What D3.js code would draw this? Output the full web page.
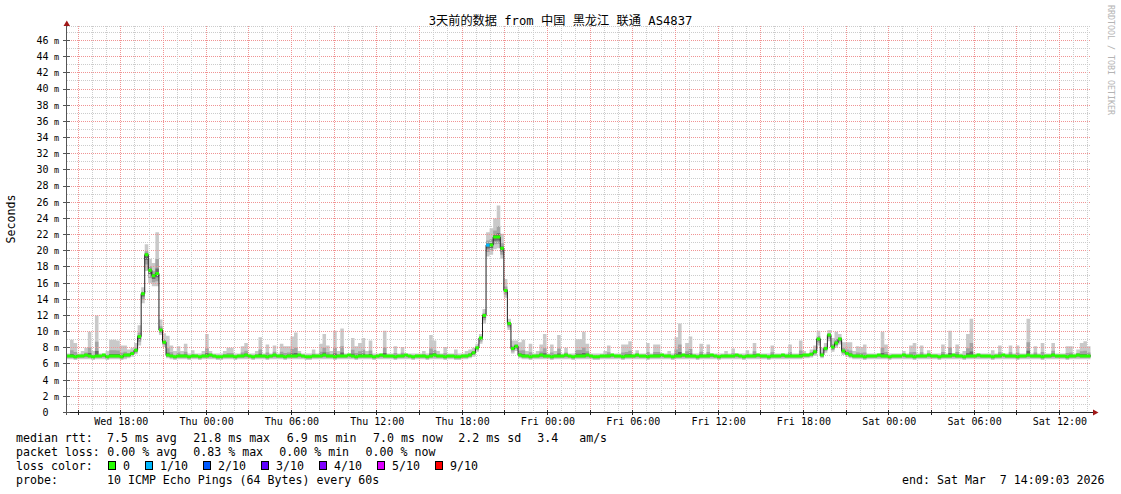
<!DOCTYPE html>
<html><head><meta charset="utf-8">
<script src="https://cdn.jsdelivr.net/npm/d3@7"></script>
<style>
body{margin:0;background:#fff;}
svg{display:block;}
text{font-family:"DejaVu Sans Mono","Noto Sans CJK SC",monospace;fill:#000;}
</style>
</head><body>
<svg id="c" width="1121" height="494"></svg>
<script>
// ---------------- DATA ----------------
const title = "3天前的数据 from 中国 黑龙江 联通 AS4837";
const yAxisLabel = "Seconds";
const watermark = "RRDTOOL / TOBI OETIKER";
const startTime = "2026-03-04T14:09:03Z";
const endTime = "2026-03-07T14:09:03Z";
const yMax = 47.8;
const yTickValues = [0,2,4,6,8,10,12,14,16,18,20,22,24,26,28,30,32,34,36,38,40,42,44,46];

// median RTT (ms), one value per 15-minute step
const median = [
 7.0,7.0,6.9,7.0,7.0,7.1,7.0,6.9,7.0,7.0,7.1,6.9,
 7.0,7.0,7.0,6.9,7.1,7.1,7.3,7.7,9.4,14.7,19.5,17.6,
 16.9,17.2,10.2,8.7,7.1,7.0,6.9,7.0,7.0,7.0,6.9,7.0,
 7.0,6.9,7.0,7.0,7.1,7.0,6.9,6.9,7.0,7.0,7.0,6.9,
 7.0,7.0,7.1,7.0,6.9,7.0,7.0,7.0,6.9,7.0,7.1,7.0,
 7.0,6.9,7.0,7.0,7.0,7.1,7.0,6.9,6.9,7.0,7.0,7.0,
 7.1,7.0,7.0,6.9,7.0,7.0,7.0,7.1,7.0,6.9,7.0,7.0,
 7.0,7.0,6.9,7.0,7.1,7.0,7.0,7.0,6.9,7.0,7.0,7.1,
 7.0,6.9,7.0,7.0,7.0,6.9,7.0,7.1,7.0,7.0,6.9,7.0,
 7.0,6.9,6.9,7.0,7.0,7.1,7.4,8.0,9.2,12.0,20.7,20.7,
 21.7,21.7,20.3,15.1,11.0,7.9,8.2,7.1,7.0,7.0,6.9,7.0,
 7.0,7.1,7.0,7.0,6.9,7.0,7.0,7.0,7.1,7.0,6.9,7.0,
 7.0,7.0,7.1,7.0,6.9,6.9,7.0,7.0,7.0,7.1,7.0,7.0,
 6.9,7.0,7.0,7.0,7.1,7.0,7.0,6.9,7.0,7.0,7.0,7.1,
 7.0,7.0,6.9,7.0,7.0,7.1,7.0,7.0,7.0,6.9,7.0,7.0,
 7.0,7.1,7.0,6.9,7.0,7.0,7.0,7.0,7.1,7.0,6.9,7.0,
 7.0,7.0,7.1,7.0,7.0,6.9,7.0,7.0,7.0,7.1,7.0,7.0,
 7.0,7.0,7.0,7.1,7.1,7.2,7.5,9.1,7.1,7.9,9.6,8.1,
 8.6,9.1,7.6,7.3,7.1,7.0,7.0,7.0,6.9,7.0,7.0,7.0,
 7.1,7.0,7.0,6.9,7.0,7.0,7.0,7.1,7.0,7.0,6.9,7.0,
 7.0,7.0,7.1,7.0,7.0,6.9,7.0,7.0,7.0,7.1,7.0,7.0,
 6.9,7.0,7.0,7.0,7.1,7.0,7.0,7.0,6.9,7.0,7.0,7.1,
 7.0,7.0,7.0,6.9,7.0,7.0,7.1,7.0,7.0,7.0,6.9,7.0,
 7.0,7.1,7.0,7.0,7.0,6.9,7.0,7.0,7.1,7.0,7.0,7.0
];
// slowest ping of each step (top of smoke)
const pingMax = [
 7.3,9.0,8.6,7.3,7.6,8.0,10.0,7.6,12.0,7.3,7.3,7.6,
 9.0,9.0,8.9,8.3,8.3,7.8,8.0,8.6,10.8,15.5,20.8,19.0,
 18.5,22.3,11.5,9.8,9.5,8.3,7.6,8.2,7.6,8.5,7.3,7.7,
 7.3,7.3,7.6,9.7,7.6,7.3,7.3,7.3,7.6,8.0,8.0,7.3,
 7.3,8.2,8.6,7.3,7.3,7.6,9.3,7.3,8.4,7.3,8.3,7.3,
 8.5,8.2,8.2,9.4,9.9,7.6,7.3,7.3,7.3,7.8,7.3,8.5,
 9.7,8.3,7.6,10.1,7.6,10.4,7.3,7.3,9.2,8.2,8.6,9.2,
 7.6,8.9,7.3,7.3,7.3,10.1,7.3,7.3,8.2,7.3,8.1,7.3,
 7.3,7.3,7.3,7.3,7.6,7.3,9.6,8.9,7.6,7.3,8.1,7.3,
 7.3,7.8,7.3,7.3,7.6,7.8,8.0,8.5,9.7,12.8,22.3,22.8,
 24.0,25.6,22.1,16.5,11.6,8.9,8.9,8.7,9.0,7.6,8.5,7.3,
 7.6,8.4,9.7,7.3,8.4,7.6,9.6,7.3,8.0,7.3,7.3,9.1,
 9.1,10.0,8.5,7.3,7.3,7.3,7.3,7.6,8.3,7.3,7.3,7.3,
 8.4,8.4,8.8,7.3,7.7,7.3,7.3,8.6,7.3,8.4,8.4,7.3,
 7.3,7.6,7.3,9.3,11.0,7.3,8.6,9.4,7.3,7.3,8.5,7.3,
 8.4,7.3,7.3,7.3,7.3,7.6,7.3,7.9,7.3,7.3,7.3,7.7,
 7.3,8.6,7.3,7.3,7.3,7.3,8.3,7.3,7.3,7.3,7.3,8.4,
 7.3,7.3,8.9,7.6,7.3,7.8,8.3,10.1,8.0,8.6,10.2,9.2,
 10.0,9.7,8.7,8.7,8.7,7.6,8.2,8.1,8.4,7.3,7.3,7.3,
 7.3,10.0,8.4,7.3,7.3,7.3,7.3,7.6,7.3,8.3,8.6,7.3,
 8.3,7.3,7.7,7.3,7.3,7.3,8.4,7.3,10.1,7.3,8.4,7.3,
 7.6,9.7,11.6,7.3,7.3,7.3,7.3,7.3,7.7,7.3,8.3,7.3,
 7.3,8.3,7.3,8.3,7.3,7.3,11.6,7.3,8.2,7.3,8.6,7.3,
 7.3,8.6,7.3,7.3,7.3,8.2,8.2,7.3,7.8,8.6,8.8,8.2
];
// fastest ping of each step (bottom of smoke)
const pingMin = [
 6.6,6.6,6.5,6.6,6.6,6.6,6.6,6.5,6.6,6.6,6.6,6.5,
 6.6,6.6,6.6,6.5,6.6,6.7,6.9,7.2,8.3,13.5,17.5,16.0,
 15.6,15.6,9.6,8.1,6.7,6.6,6.5,6.6,6.6,6.6,6.5,6.6,
 6.6,6.5,6.6,6.6,6.6,6.6,6.5,6.5,6.6,6.6,6.6,6.5,
 6.6,6.6,6.6,6.6,6.5,6.6,6.6,6.6,6.5,6.6,6.6,6.6,
 6.6,6.5,6.6,6.6,6.6,6.6,6.6,6.5,6.5,6.6,6.6,6.6,
 6.6,6.6,6.6,6.5,6.6,6.6,6.6,6.6,6.6,6.5,6.6,6.6,
 6.6,6.6,6.5,6.6,6.6,6.6,6.6,6.6,6.5,6.6,6.6,6.6,
 6.6,6.5,6.6,6.6,6.6,6.5,6.6,6.6,6.6,6.6,6.5,6.6,
 6.6,6.5,6.5,6.6,6.6,6.7,6.9,7.5,8.5,11.0,19.3,19.5,
 20.2,20.3,19.0,14.2,10.2,7.3,7.6,6.7,6.6,6.6,6.5,6.6,
 6.6,6.6,6.6,6.6,6.5,6.6,6.6,6.6,6.6,6.6,6.5,6.6,
 6.6,6.6,6.6,6.6,6.5,6.5,6.6,6.6,6.6,6.6,6.6,6.6,
 6.5,6.6,6.6,6.6,6.6,6.6,6.6,6.5,6.6,6.6,6.6,6.6,
 6.6,6.6,6.5,6.6,6.6,6.6,6.6,6.6,6.6,6.5,6.6,6.6,
 6.6,6.6,6.6,6.5,6.6,6.6,6.6,6.6,6.6,6.6,6.5,6.6,
 6.6,6.6,6.6,6.6,6.6,6.5,6.6,6.6,6.6,6.6,6.6,6.6,
 6.6,6.6,6.6,6.7,6.7,6.8,7.0,8.3,6.7,7.4,8.8,7.5,
 8.0,8.4,7.1,6.9,6.7,6.6,6.6,6.6,6.5,6.6,6.6,6.6,
 6.6,6.6,6.6,6.5,6.6,6.6,6.6,6.6,6.6,6.6,6.5,6.6,
 6.6,6.6,6.6,6.6,6.6,6.5,6.6,6.6,6.6,6.6,6.6,6.6,
 6.5,6.6,6.6,6.6,6.6,6.6,6.6,6.6,6.5,6.6,6.6,6.6,
 6.6,6.6,6.6,6.5,6.6,6.6,6.6,6.6,6.6,6.6,6.5,6.6,
 6.6,6.6,6.6,6.6,6.6,6.5,6.6,6.6,6.6,6.6,6.6,6.6
];
// steps that had packet loss (index into the arrays above) and lost pings out of 10
const lossIndex = [118];
const lossValue = [1];

const lossLevels = [0,1,2,3,4,5,9];
const lossLabels = ["0","1/10","2/10","3/10","4/10","5/10","9/10"];
const lossColors = ["#26ff00","#00b8ff","#0059ff","#5e00ff","#7e00ff","#dd00ff","#ff0000"];

// legend rows: each row is a list of [text, x] items (rrdtool places each GPRINT separately)
const legendRows = [
  [["median rtt:", 16], ["7.5 ms avg", 107], ["21.8 ms max", 193.3], ["6.9 ms min", 286.7], ["7.0 ms now", 373], ["2.2 ms sd", 458.3], ["3.4   am/s", 537.3]],
  [["packet loss:", 16], ["0.00 % avg", 107.3], ["0.83 % max", 193.3], ["0.00 % min", 279.3], ["0.00 % now", 365.6]],
  [["loss color:", 16]],
  [["probe:", 16], ["10 ICMP Echo Pings (64 Bytes) every 60s", 107]]
];
const legendEnd = "end: Sat Mar  7 14:09:03 2026";

// ---------------- DRAW ----------------
const keepSpaces = s => s.replace(/ /g, "\u00a0");
const svg = d3.select("#c");
const X0 = 66.5, X1 = 1090.5, YB = 412.5, YT = 26;
const t0 = new Date(startTime), t1 = new Date(endTime);
const x = d3.scaleUtc().domain([t0, t1]).range([X0, X1]);
const y = d3.scaleLinear().domain([0, yMax]).range([YB, YT]);
const n = median.length;
const stepMs = (t1 - t0) / n;
const stepTime = i => new Date(+t0 + i * stepMs);
const lossOf = i => { const k = lossIndex.indexOf(i); return k < 0 ? 0 : lossValue[k]; };

const seg = [];
for (let i = 0; i < n; i++) { seg.push({i, t: stepTime(i)}); seg.push({i, t: stepTime(i + 1)}); }

// smoke
function band(f0, f1, color) {
  svg.append("path").datum(seg).attr("fill", color).attr("stroke", "none")
    .attr("d", d3.area().x(d => x(d.t)).y0(d => y(f0(d.i))).y1(d => y(f1(d.i))));
}
band(i => pingMin[i], i => pingMax[i], "#c9c9c9");
band(i => median[i] - 0.6 * (median[i] - pingMin[i]), i => median[i] + 0.35 * (pingMax[i] - median[i]), "#a3a3a3");
band(i => median[i] - 0.3 * (median[i] - pingMin[i]), i => median[i] + 0.12 * (pingMax[i] - median[i]), "#6a6a6a");

// grid (dotted)
const grid = svg.append("g");
const py = v => Math.round(y(v) - 0.5) + 0.5;
const px = t => Math.floor(x(t) - 0.5) + 0.5;
for (let v = 1; v < yMax; v++) {
  const major = v % 2 === 0;
  grid.append("line").attr("x1", X0 + 0.5).attr("x2", X1).attr("y1", py(v)).attr("y2", py(v))
    .attr("stroke", major ? "#f09494" : "#cccccc").attr("stroke-dasharray", "1,1");
}
grid.append("line").attr("x1", X0 + 0.5).attr("x2", X1).attr("y1", YT + 0.5).attr("y2", YT + 0.5)
  .attr("stroke", "#cccccc").attr("stroke-dasharray", "1,1");
const hours = d3.utcHour.range(d3.utcHour.ceil(t0), t1);
hours.forEach(h => {
  const major = h.getUTCHours() % 3 === 0;
  grid.append("line").attr("x1", px(h)).attr("x2", px(h)).attr("y1", YT).attr("y2", YB - 0.5)
    .attr("stroke", major ? "#f09494" : "#cccccc").attr("stroke-dasharray", "1,1");
});

// median line
svg.append("path").datum(seg).attr("fill", "none").attr("stroke", "#202020").attr("stroke-width", 1)
  .attr("d", d3.line().x(d => x(d.t)).y(d => y(median[d.i])));
lossLevels.forEach((lv, k) => {
  svg.append("path").datum(seg).attr("fill", lossColors[k])
    .attr("d", d3.area().defined(d => lossOf(d.i) === lv).x(d => x(d.t))
      .y0(d => y(median[d.i]) + 1.5).y1(d => y(median[d.i]) - 1.5));
});

// axes
const ax = svg.append("g").attr("shape-rendering", "crispEdges");
ax.append("line").attr("x1", 66.5).attr("x2", 66.5).attr("y1", 415).attr("y2", 23).attr("stroke", "#555");
ax.append("line").attr("x1", 63).attr("x2", 1094).attr("y1", 412.5).attr("y2", 412.5).attr("stroke", "#222");
svg.append("path").attr("d", "M63.5,26 L70,26 L66.8,20.5 Z").attr("fill", "#a01818");
svg.append("path").attr("d", "M1093,409.5 L1093,415.5 L1098.5,412.5 Z").attr("fill", "#a01818");
hours.filter(h => h.getUTCHours() % 3 === 0).forEach(h => {
  ax.append("line").attr("x1", px(h)).attr("x2", px(h)).attr("y1", 410).attr("y2", 415).attr("stroke", "#222");
});
yTickValues.forEach(v => {
  ax.append("line").attr("x1", 63).attr("x2", 70).attr("y1", py(v)).attr("y2", py(v)).attr("stroke", "#555");
});

// y tick labels
const yl = svg.append("g");
yTickValues.forEach(v => {
  const yy = y(v) + 3.4;
  yl.append("text").attr("x", 48.5).attr("y", yy).attr("text-anchor", "end").attr("font-size", 10).text(v);
  if (v !== 0) yl.append("text").attr("x", 54).attr("y", yy).attr("font-size", 8.5).text("m");
});
// x tick labels
const fmt = d3.utcFormat("%a %H:%M");
hours.filter(h => h.getUTCHours() % 6 === 0).forEach(h => {
  svg.append("text").attr("x", x(h)).attr("y", 425).attr("text-anchor", "middle").attr("font-size", 10).text(fmt(h));
});

// title & side texts
svg.append("text").attr("x", 560.5).attr("y", 25).attr("text-anchor", "middle").attr("font-size", 12.2).text(title);
svg.append("text").attr("transform", "translate(15,219) rotate(-90)").attr("text-anchor", "middle")
  .attr("font-size", 11.6).text(yAxisLabel);
svg.append("text").attr("transform", "translate(1108,5) rotate(90)").attr("font-size", 8.3)
  .style("fill", "#b4b4b4").text(watermark);

// legend
const lg = svg.append("g").attr("font-size", 11.6);
const rowY = [442, 456, 470, 484];
legendRows.forEach((row, r) => {
  row.forEach(([txt, lx]) => lg.append("text").attr("x", lx).attr("y", rowY[r]).text(keepSpaces(txt)));
});
lg.append("text").attr("x", 1104.5).attr("y", 484).attr("text-anchor", "end").text(keepSpaces(legendEnd));
const boxX = [108.5, 145.5, 203.5, 261.5, 319.5, 377.5, 435.5];
const lblX = [123, 160, 218, 276, 334, 392, 450];
lossLabels.forEach((l, k) => {
  lg.append("rect").attr("x", boxX[k]).attr("y", 461.5).attr("width", 7).attr("height", 8)
    .attr("fill", lossColors[k]).attr("stroke", "#000").attr("stroke-width", 1).attr("shape-rendering", "crispEdges");
  lg.append("text").attr("x", lblX[k]).attr("y", 470).text(l);
});
</script>
</body></html>
